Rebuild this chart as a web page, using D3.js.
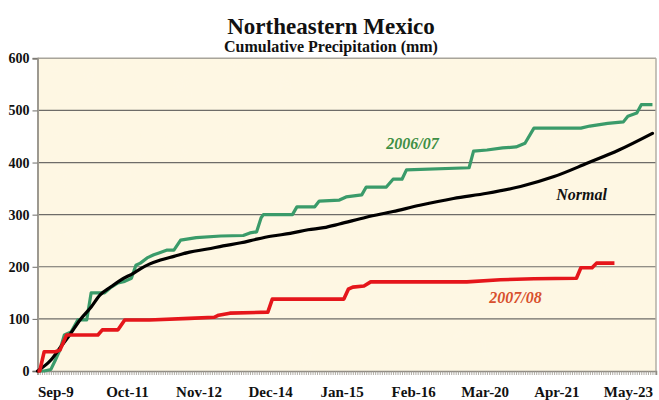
<!DOCTYPE html>
<html>
<head>
<meta charset="utf-8">
<script src="https://cdn.jsdelivr.net/npm/d3@7"></script>
<style>
  html, body { margin: 0; padding: 0; background: #ffffff; }
  svg { display: block; }
  text { font-family: "Liberation Serif", "Times New Roman", serif; }
</style>
</head>
<body>
<svg id="chart" width="659" height="400"></svg>
<script>
// Season runs from 1 September; all series are indexed by days since then.
const seasonStart = "2006-09-01";
const tickDates = ["2006-09-09", "2006-10-11", "2006-11-12", "2006-12-14", "2007-01-15",
                   "2007-02-16", "2007-03-20", "2007-04-21", "2007-05-23"];
const yTicks = [0, 100, 200, 300, 400, 500, 600];

// Normal (climatological) cumulative precipitation, mm
const normalDays   = [0, 6, 10, 15, 19, 24, 28, 33, 37, 43, 46, 50, 55, 61, 68, 76, 83, 91, 98,
                      105, 113, 121, 128, 135, 147, 159, 171, 186, 201, 216, 231, 246, 260, 275];
const normalValues = [0, 21, 44, 73, 98, 123, 146, 162, 174, 188, 196, 205, 213, 220, 228, 234, 240, 246, 253,
                      259, 264, 271, 275, 282, 295, 306, 318, 331, 341, 354, 373, 399, 424, 456];

// 2006/07 season cumulative precipitation, mm
const days0607   = [0, 3, 6, 8, 10, 12, 15, 18, 22, 24, 30, 33, 36, 39, 42, 44, 46, 49, 52, 54,
                    58, 61, 64, 71, 82, 92, 95, 98, 100, 101, 114, 116, 124, 126, 135, 138, 145, 147,
                    156, 159, 163, 165, 193, 195, 201, 208, 214, 218, 222, 243, 247, 255, 262, 264,
                    268, 270, 275];
const values0607 = [0, 0, 3, 21, 40, 69, 75, 98, 98, 150, 150, 161, 169, 172, 178, 203, 207, 217, 223, 226,
                    232, 232, 251, 256, 259, 260, 265, 267, 294, 300, 300, 315, 315, 326, 328, 334, 338, 353,
                    353, 368, 368, 386, 390, 422, 424, 428, 430, 437, 466, 466, 470, 475, 478, 489,
                    495, 511, 511];

// 2007/08 season cumulative precipitation, mm
const days0708   = [0, 1, 3, 8, 10, 13, 27, 29, 36, 39, 50, 68, 79, 81, 86, 103, 105, 137, 139, 141,
                    146, 149, 192, 207, 222, 241, 243, 248, 250, 258];
const values0708 = [0, 0, 37, 37, 40, 69, 69, 79, 79, 98, 98, 101, 103, 107, 111, 113, 138, 138, 157, 161,
                    163, 171, 171, 175, 177, 178, 198, 198, 207, 207];

const parse = d3.utcParse("%Y-%m-%d");
const start = parse(seasonStart);
const dayDate = d => d3.utcDay.offset(start, d);

const svg = d3.select("#chart");
const plot = { left: 37.5, right: 656, top: 58.3, bottom: 371 };

const x = d3.scaleUtc()
  .domain([start, d3.utcHour.offset(start, Math.round(276.6 * 24))])
  .range([plot.left, plot.right]);
const y = d3.scaleLinear().domain([0, 600]).range([plot.bottom, plot.top]);

// Parchment-coloured plotting area with a faint mottled texture
const defs = svg.append("defs");
const filt = defs.append("filter").attr("id", "paper").attr("x", 0).attr("y", 0)
  .attr("width", 1).attr("height", 1);
filt.append("feTurbulence").attr("type", "fractalNoise").attr("baseFrequency", 0.04)
  .attr("numOctaves", 3).attr("seed", 4).attr("result", "noise");
filt.append("feColorMatrix").attr("in", "noise").attr("type", "matrix")
  .attr("values", "0 0 0 0 0.97  0 0 0 0 0.93  0 0 0 0 0.82  0 0 0 0.12 -0.04")
  .attr("result", "tint");
filt.append("feComposite").attr("in", "tint").attr("in2", "SourceGraphic").attr("operator", "in");

svg.append("rect")
  .attr("x", plot.left).attr("y", plot.top)
  .attr("width", plot.right - plot.left).attr("height", plot.bottom - plot.top)
  .attr("fill", "#fef7e3");
svg.append("rect")
  .attr("x", plot.left).attr("y", plot.top)
  .attr("width", plot.right - plot.left).attr("height", plot.bottom - plot.top)
  .attr("fill", "#fef7e3").attr("filter", "url(#paper)");

// Horizontal gridlines
svg.append("g")
  .selectAll("line")
  .data(yTicks.filter(v => v > 0))
  .join("line")
  .attr("x1", plot.left).attr("x2", plot.right)
  .attr("y1", d => y(d)).attr("y2", d => y(d))
  .attr("stroke", d => d === 600 ? "#a8a49a" : "#6e6c68")
  .attr("stroke-width", d => d === 600 ? 1.5 : 1.2);

// Right-hand frame
svg.append("line")
  .attr("x1", plot.right).attr("x2", plot.right)
  .attr("y1", plot.top).attr("y2", plot.bottom)
  .attr("stroke", "#b3afa5").attr("stroke-width", 1.5);

// Y axis
const yAxis = d3.axisLeft(y).tickValues(yTicks).tickSize(5).tickPadding(3);
const gy = svg.append("g").attr("transform", `translate(${plot.left},0)`).call(yAxis);
gy.select(".domain").attr("stroke", "#9d9990").attr("stroke-width", 2);
gy.selectAll(".tick line").attr("stroke", "#6e6c68");
gy.selectAll("text")
  .attr("font-family", "Liberation Serif, serif")
  .attr("font-weight", "bold").attr("font-size", 14).attr("fill", "#111");

// X axis: daily minor ticks and dated labels
const allDays = d3.range(0, 277).map(dayDate);
const gxMinor = svg.append("g").attr("transform", `translate(0,${plot.bottom})`)
  .call(d3.axisBottom(x).tickValues(allDays).tickSize(4).tickFormat(""));
gxMinor.select(".domain").attr("stroke", "#8f8b83").attr("stroke-width", 1.5);
gxMinor.selectAll(".tick line").attr("stroke", "#9a968d").attr("stroke-width", 0.8);

const gx = svg.append("g").attr("transform", `translate(0,${plot.bottom})`)
  .call(d3.axisBottom(x).tickValues(tickDates.map(parse))
    .tickFormat(d3.utcFormat("%b-%-d")).tickSize(0).tickPadding(15));
gx.select(".domain").remove();
gx.selectAll("text")
  .attr("font-family", "Liberation Serif, serif")
  .attr("font-weight", "bold").attr("font-size", 15).attr("fill", "#111");

// Series lines
const line = d3.line().x(d => x(dayDate(d[0]))).y(d => y(d[1]));
const smooth = d3.line().x(d => x(dayDate(d[0]))).y(d => y(d[1])).curve(d3.curveMonotoneX);

svg.append("path")
  .datum(d3.zip(days0607, values0607))
  .attr("d", line)
  .attr("fill", "none").attr("stroke", "#3a9b6a").attr("stroke-width", 3.2)
  .attr("stroke-linejoin", "round");

svg.append("path")
  .datum(d3.zip(normalDays, normalValues))
  .attr("d", smooth)
  .attr("fill", "none").attr("stroke", "#000").attr("stroke-width", 3.2)
  .attr("stroke-linecap", "round");

svg.append("path")
  .datum(d3.zip(days0708, values0708))
  .attr("d", line)
  .attr("fill", "none").attr("stroke", "#e5161b").attr("stroke-width", 3.6)
  .attr("stroke-linejoin", "round");

// Series labels
const labels = [
  { text: "2006/07", day: 156, value: 426, color: "#3f8f45" },
  { text: "Normal", day: 232, value: 329, color: "#111" },
  { text: "2007/08", day: 202, value: 131, color: "#d8502d" }
];
svg.append("g").selectAll("text")
  .data(labels)
  .join("text")
  .attr("x", d => x(dayDate(d.day)))
  .attr("y", d => y(d.value))
  .attr("font-family", "Liberation Serif, serif")
  .attr("font-weight", "bold").attr("font-style", "italic")
  .attr("font-size", 16).attr("fill", d => d.color)
  .text(d => d.text);

// Titles
svg.append("text")
  .attr("x", 331).attr("y", 34)
  .attr("text-anchor", "middle")
  .attr("font-weight", "bold").attr("font-size", 23).attr("fill", "#111")
  .text("Northeastern Mexico");
svg.append("text")
  .attr("x", 331).attr("y", 52)
  .attr("text-anchor", "middle")
  .attr("font-weight", "bold").attr("font-size", 16).attr("fill", "#111")
  .text("Cumulative Precipitation (mm)");
</script>
</body>
</html>
